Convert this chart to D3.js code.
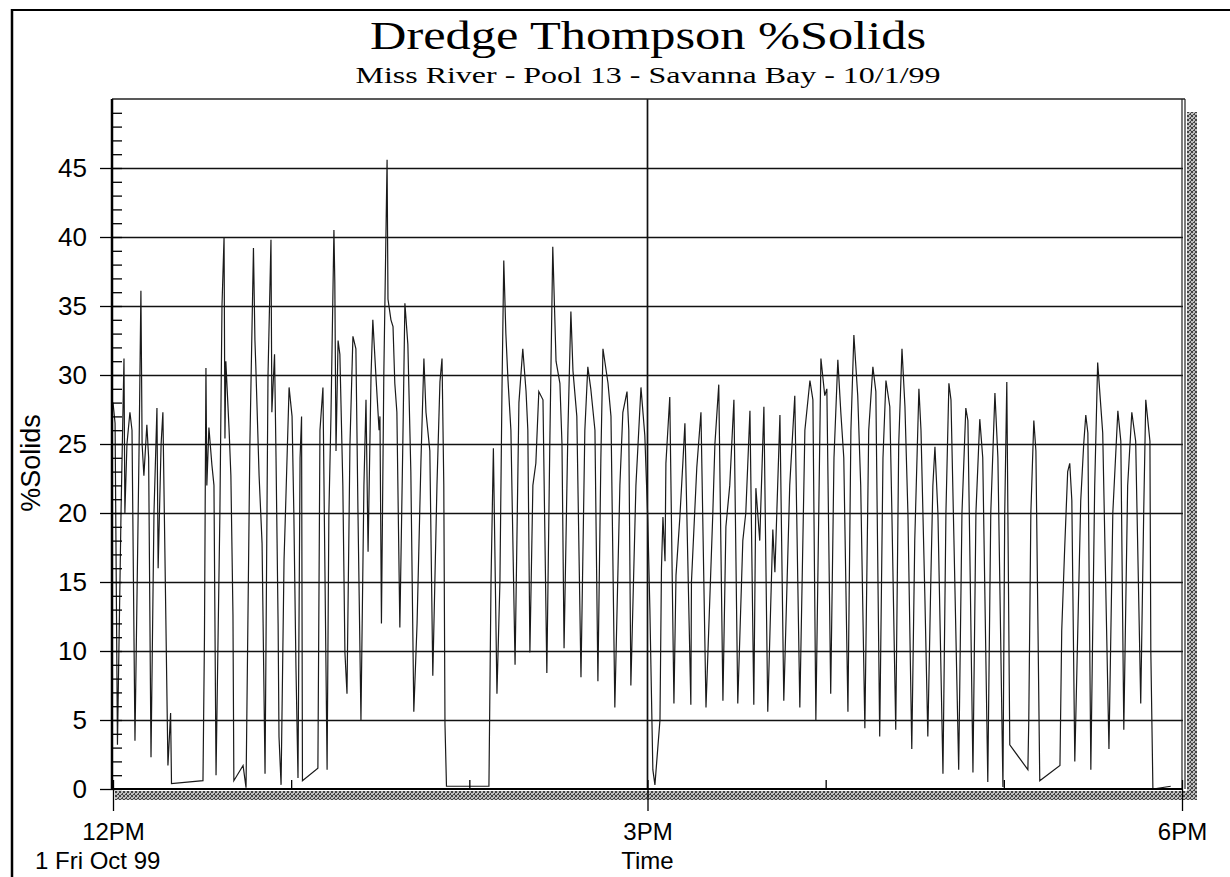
<!DOCTYPE html>
<html><head><meta charset="utf-8">
<script src="https://cdn.jsdelivr.net/npm/d3@7"></script>
<style>body{margin:0;background:#fff}svg{display:block}</style>
</head><body>
<svg id="c" width="1230" height="877"></svg>
<script>
// minutes after 12PM, 1 Oct 1999
const minutes = [0,0.7,1.5,2.7,3.7,4.0,4.7,5.7,6.4,7.4,8.8,9.4,9.8,10.4,11.4,12.0,12.8,13.8,14.8,15.2,16.2,16.8,17.8,18.5,19.4,19.7,30.3,30.8,31.3,31.6,32.3,33.3,34.0,34.7,36.0,36.7,37.4,37.7,38.0,39.1,39.7,40.4,40.7,43.8,44.8,46.1,47.3,47.8,48.1,49.2,50.2,51.2,52.2,53.2,53.5,54.4,54.9,55.6,55.9,56.6,57.6,58.2,59.3,60.3,60.9,61.6,62.3,63.0,63.5,63.8,69.0,69.7,70.7,72.1,72.7,73.4,74.4,74.7,75.1,75.8,76.4,77.4,78.1,78.8,79.8,80.8,81.8,82.5,83.5,84.5,85.2,85.9,86.9,87.5,88.6,89.6,89.9,90.4,91.2,92.3,92.6,93.6,94.3,94.9,95.6,96.6,97.6,98.3,99.3,100.3,101.3,102.4,103.7,104.7,105.4,106.7,107.7,109.1,110.1,110.8,111.4,111.8,112.3,126.6,127.3,128.1,129.3,130.3,131.0,131.6,132.3,133.0,134.0,135.4,136.7,138.0,139.1,139.7,140.4,141.4,142.4,143.4,144.8,146.1,147.1,148.1,149.2,150.5,151.2,151.9,153.2,154.2,154.9,156.2,157.6,158.9,159.9,160.9,162.3,163.3,164.3,165.0,166.7,167.7,169.0,170.7,171.7,173.1,173.7,174.4,176.1,177.8,179.1,180.1,180.8,181.8,182.5,184.2,184.7,185.2,185.9,186.2,187.5,188.9,189.6,190.9,191.9,192.6,194.6,194.8,196.6,198.0,199.7,202.0,202.7,204.0,205.4,206.4,207.7,209.1,210.4,212.1,213.1,214.5,215.8,216.5,217.8,219.2,220.5,222.2,222.9,224.6,225.9,227.9,229.6,231.3,233.0,234.7,235.7,236.7,238.4,239.7,240.4,241.7,242.8,244.1,245.1,246.1,247.5,248.5,249.5,250.8,251.8,253.2,254.5,255.9,256.9,258.2,259.3,260.3,261.6,262.3,263.6,264.6,265.7,266.7,267.7,269.0,270.0,271.4,272.1,273.4,274.4,275.4,276.1,276.8,277.8,279.5,280.5,281.5,282.2,283.2,284.8,285.9,287.2,287.9,288.5,289.6,290.6,291.9,292.9,294.6,295.6,297.0,298.0,299.7,300.3,301.0,302.0,308.1,308.4,309.1,310.1,310.8,312.1,318.9,319.5,320.5,321.5,322.2,322.9,323.9,325.9,326.9,327.6,328.3,329.3,330.6,331.6,332.7,333.3,335.4,336.7,338.4,339.4,340.4,341.7,343.1,344.4,346.1,347.1,347.8,349.2,349.5,350.2,356.2];
// % solids
const solids = [28,26.5,3.2,20,31.2,20,25,27.3,26,3.5,25,36.1,25,22.7,26.4,24,2.3,20,27.6,16,25,27.3,12.3,1.7,5.5,0.4,0.6,11,30.5,22,26.2,23.5,22,1,20,35,40,25.4,31,26,22.7,12.6,0.6,1.7,0.1,25,39.2,32.5,30.6,22.7,17.8,1.1,30,39.8,27.3,31.5,24,12,3.8,0.3,16.6,20.9,29.1,27,20,9,0.8,24,27,0.6,1.5,26,29.1,1.4,20,27,40.5,36.7,24.5,32.5,31.5,22,9.9,6.9,25,32.8,31.9,20,5,22,28.2,17.2,30,34,29.7,26,27,12,30,45.6,35.5,34,33.5,29.4,27.3,11.7,25,35.2,32.2,23,5.6,12,23.7,31.2,27.3,24.5,8.2,22,29.5,31.2,22,4.7,0.2,0.2,15,24.7,6.9,15,29,38.3,33,29.7,26,9,28,31.9,28.8,26,9.9,22,23.6,28.8,28.2,8.4,25,39.3,31,29.4,25,10.2,26,34.6,30.3,27,8.1,26,30.6,29,26,7.8,24,31.9,29.4,27,5.9,22,27.3,28.8,26,7.5,22,29.1,25.6,19.5,13,1.4,0.3,5,16,19.7,16.5,23.6,28.4,6.2,15.5,19.7,23.6,26.5,6.1,15,23.3,27.3,5.9,20,25,29.3,6.4,19,22,28.2,6.2,18,20,27.4,6.1,21.8,18,27.7,5.6,18.8,15.7,27.1,6.4,22,28.5,5.9,26,29.6,28.2,5.0,31.2,28.5,29,6.9,24,31.1,27.3,24,5.6,26,32.9,28.5,22,4.4,26,30.6,28.8,3.8,24,29.6,27.7,20,4.3,25,31.9,27.7,20,2.9,18,29,26,14,3.8,15,22,24.8,20,1.1,20,29.4,28.2,18,1.4,20,27.6,26.7,18,1.2,20,26.8,24,0.5,20,28.7,24,0.15,20,29.5,3.2,1.4,5,20,26.7,24.5,0.6,1.7,11.5,17.5,23,23.6,20.9,2.0,20.9,25,27.1,25.8,1.4,22,30.9,27.6,25.8,2.9,20,27.4,25.2,4.3,22,27.3,25.2,6.2,20,28.2,25.2,10,0,0.2];
const yTickValues = [0,5,10,15,20,25,30,35,40,45];
const xTickLabels = ["12PM","3PM","6PM"];
const xSubLabels = ["1 Fri Oct 99","Time"];
const titleText = "Dredge Thompson %Solids";
const subtitleText = "Miss River - Pool 13 - Savanna Bay - 10/1/99";
const yLabel = "%Solids";

const svg = d3.select("#c");
const L = 112, T = 99, R = 1183, B = 789;
const t0 = new Date(1999, 9, 1, 12, 0);
const toDate = m => new Date(t0.getTime() + m * 60000);
const x = d3.scaleTime().domain([t0, toDate(360)]).range([113, 1182]);
const y = d3.scaleLinear().domain([0, 50]).range([B, T]);

// shadow texture
const defs = svg.append("defs");
const pat = defs.append("pattern").attr("id","dith").attr("width",4).attr("height",4).attr("patternUnits","userSpaceOnUse");
pat.append("rect").attr("width",4).attr("height",4).attr("fill","#bdbdbd");
[[0,0],[2,1],[1,2],[3,3],[3,0],[0,3],[2,2]].forEach(([a,b])=>pat.append("rect").attr("x",a).attr("y",b).attr("width",1).attr("height",1).attr("fill","#444"));
defs.append("clipPath").attr("id","clip").append("rect").attr("x",L).attr("y",T).attr("width",R-L).attr("height",B-T+1);

// outer frame (left + top)
svg.append("line").attr("x1",12).attr("x2",12).attr("y1",9).attr("y2",877).attr("stroke","#000").attr("stroke-width",2.5);
svg.append("line").attr("x1",11).attr("x2",1230).attr("y1",10).attr("y2",10).attr("stroke","#000").attr("stroke-width",2);

// shadows
svg.append("rect").attr("x",R+4).attr("y",T+13).attr("width",10).attr("height",B-T-2).attr("fill","url(#dith)");
svg.append("rect").attr("x",L+3).attr("y",B+2).attr("width",R-L+11).attr("height",9).attr("fill","url(#dith)");
svg.append("rect").attr("x",L).attr("y",T).attr("width",R-L).attr("height",B-T).attr("fill","#fff");

// gridlines
svg.append("g").attr("transform",`translate(${L},0)`)
  .call(d3.axisLeft(y).tickValues(yTickValues.filter(v=>v>0)).tickSize(-(R-L)).tickFormat(""))
  .call(g=>g.select(".domain").remove())
  .call(g=>g.selectAll("line").attr("stroke","#111").attr("stroke-width",1.7));
svg.append("line").attr("x1",x(toDate(180))).attr("x2",x(toDate(180))).attr("y1",T).attr("y2",B).attr("stroke","#111").attr("stroke-width",1.7);

// data
const line = d3.line().x((d,i)=>x(toDate(minutes[i]))).y((d,i)=>y(solids[i]));
svg.append("path").datum(solids).attr("clip-path","url(#clip)")
  .attr("d", line).attr("fill","none").attr("stroke","#1a1a1a").attr("stroke-width",1.2);

// plot frame
svg.append("line").attr("x1",L).attr("x2",R+2).attr("y1",T).attr("y2",T).attr("stroke","#222").attr("stroke-width",1.5);
svg.append("line").attr("x1",R-1).attr("x2",R-1).attr("y1",T).attr("y2",B).attr("stroke","#222").attr("stroke-width",1.2);
svg.append("line").attr("x1",R+2).attr("x2",R+2).attr("y1",T).attr("y2",B).attr("stroke","#222").attr("stroke-width",1.2);

// y axis
const fontSans = "Arial, 'Liberation Sans', sans-serif";
svg.append("g").attr("transform",`translate(${L},0)`)
  .call(d3.axisRight(y).tickValues(d3.range(0,50,1)).tickSize(10).tickFormat(""))
  .call(g=>g.select(".domain").remove())
  .call(g=>g.selectAll("line").attr("stroke","#000").attr("stroke-width",1.3));
const ya = svg.append("g").attr("transform",`translate(${L},0)`)
  .call(d3.axisLeft(y).tickValues(yTickValues).tickSize(12).tickPadding(13))
  .call(g=>g.select(".domain").attr("stroke","#000").attr("stroke-width",2.5).attr("d",`M0,${T}V${B}`));
ya.selectAll("line").attr("stroke","#000").attr("stroke-width",1.3);
ya.selectAll("text").attr("font-family",fontSans).attr("font-size",26).attr("fill","#000");

// x axis
svg.append("g").attr("transform",`translate(0,${B})`)
  .call(d3.axisTop(x).ticks(d3.timeHour.every(1)).tickSize(9).tickFormat(""))
  .call(g=>g.select(".domain").remove())
  .call(g=>g.selectAll("line").attr("stroke","#000").attr("stroke-width",1.3));
const xa = svg.append("g").attr("transform",`translate(0,${B})`)
  .call(d3.axisBottom(x).tickValues([toDate(0),toDate(180),toDate(360)]).tickSize(22).tickPadding(14)
    .tickFormat((d,i)=>xTickLabels[i]))
  .call(g=>g.select(".domain").attr("stroke","#000").attr("stroke-width",2).attr("d",`M${L},0H${R}`));
xa.selectAll("line").attr("stroke","#000").attr("stroke-width",1.3);
xa.selectAll("text").attr("font-family",fontSans).attr("font-size",24).attr("fill","#000").attr("dy",null).attr("y",51);

svg.append("text").attr("x",35).attr("y",869).attr("font-family",fontSans).attr("font-size",24).text(xSubLabels[0]);
svg.append("text").attr("x",x(toDate(180))).attr("y",869).attr("text-anchor","middle").attr("font-family",fontSans).attr("font-size",24).text(xSubLabels[1]);

svg.append("text").attr("transform","translate(40,463) rotate(-90)").attr("text-anchor","middle")
  .attr("font-family",fontSans).attr("font-size",27).text(yLabel);

// titles
const fontSerif = "'Times New Roman', 'Liberation Serif', serif";
svg.append("text").attr("x",648).attr("y",49).attr("text-anchor","middle").attr("font-family",fontSerif)
  .attr("font-size",40).attr("textLength",556).attr("lengthAdjust","spacingAndGlyphs").text(titleText);
svg.append("text").attr("x",648).attr("y",83).attr("text-anchor","middle").attr("font-family",fontSerif)
  .attr("font-size",23).attr("textLength",585).attr("lengthAdjust","spacingAndGlyphs").text(subtitleText);
</script>
</body></html>
